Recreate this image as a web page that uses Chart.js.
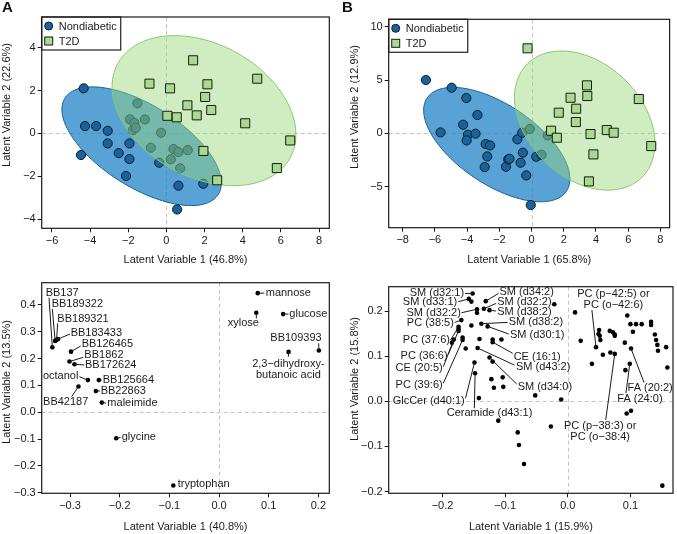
<!DOCTYPE html>
<html>
<head>
<meta charset="utf-8">
<script src="https://cdn.jsdelivr.net/npm/chart.js@4.4.1/dist/chart.umd.min.js"></script>
<style>
body { margin: 0; background: #fff; }
#wrap { position: relative; width: 677px; height: 534px; overflow: hidden; }
canvas { position: absolute; }
.tag { position: absolute; font: bold 15px "Liberation Sans", Arial, sans-serif; line-height: 15px; color: #111; }
</style>
</head>
<body>
<div id="wrap">
  <canvas id="cA" width="338" height="270" style="left:0;top:0"></canvas>
  <canvas id="cB" width="339" height="270" style="left:338px;top:0"></canvas>
  <canvas id="cC" width="338" height="272" style="left:0;top:262px"></canvas>
  <canvas id="cD" width="339" height="272" style="left:338px;top:262px"></canvas>
  <div class="tag" style="left:2px;top:-1px">A</div>
  <div class="tag" style="left:342px;top:-1px">B</div>
</div>
<script>
// ---- panel A: scores, GC-MS ----
const aNondiabeticX = [-4.34,-4.27,-3.69,-3.08,-4.48,-3.08,-2.50,-1.94,-1.94,-2.12,-1.76,-1.52,-1.91,-1.68,-1.61,-1.13,-0.28,-0.82,-0.38,0.23,0.37,0.63,1.12,0.72,0.63,1.93,0.56];
const aNondiabeticY = [2.10,0.34,0.34,0.12,-1.01,-0.47,-0.92,-0.47,-1.20,-1.99,0.15,1.40,0.65,0.49,0.26,0.65,0.03,-0.67,-1.37,-1.21,-0.73,-0.87,-0.78,-1.63,-2.44,-2.35,-3.55];
const aT2dX = [-0.89,0.19,1.40,2.15,2.03,1.10,2.35,1.59,0.05,0.54,4.76,4.13,6.49,5.79,1.94,2.66];
const aT2dY = [2.32,2.10,3.41,2.29,1.70,1.31,1.09,0.84,0.82,0.75,2.55,0.47,-0.33,-1.62,-0.82,-2.19];
// ellipse: centre x, centre y, half width, half height, correlation
const aNondiabeticEllipse = [-1.3, -0.6, 4.18, 2.77, -0.62];
const aT2dEllipse = [1.97, 1.06, 4.82, 3.5, -0.32];

// ---- panel B: scores, lipids ----
const bNondiabeticX = [-6.56,-4.96,-4.05,-5.65,-4.25,-3.36,-3.95,-4.03,-3.48,-2.85,-2.57,-2.75,-2.91,-1.59,-1.45,-1.37,-0.88,-0.54,-0.68,-0.33,-0.58,-0.11,0.29,-0.05,1.0,0.62];
const bNondiabeticY = [5.0,4.28,3.31,0.09,0.81,1.72,-0.13,-0.66,-0.03,-1.0,-1.13,-2.16,-3.16,-3.13,-2.44,-2.38,-0.56,-1.81,-2.75,-3.94,0.06,0.41,-2.19,-6.72,-0.19,-2.0];
const bT2dX = [-0.25,3.44,2.42,3.46,6.66,2.77,1.69,2.75,1.21,1.57,4.67,5.10,3.66,7.43,3.84,3.56];
const bT2dY = [7.97,4.5,3.34,3.5,3.22,2.31,1.94,1.06,0.25,-0.41,0.31,0.06,-0.06,-1.19,-1.97,-4.5];
const bNondiabeticEllipse = [-2.16, -1.05, 4.54, 5.36, -0.60];
const bT2dEllipse = [3.30, 1.2, 4.36, 6.52, -0.33];

// ---- panel C: loadings, GC-MS ----
const cNames = ['BB137','BB189322','BB189321','BB183433','BB126465','BB1862','BB172624','octanol','BB125664','BB42187','BB22863','maleimide','glycine','tryptophan','mannose','xylose','glucose','BB109393','2,3\u2212dihydroxy-|butanoic acid'];
const cX = [-0.3356,-0.330,-0.327,-0.324,-0.298,-0.301,-0.291,-0.264,-0.242,-0.283,-0.248,-0.236,-0.207,-0.092,0.078,0.075,0.129,0.201,0.140];
const cY = [0.242,0.266,0.270,0.273,0.226,0.189,0.179,0.120,0.120,0.096,0.079,0.036,-0.097,-0.273,0.444,0.371,0.366,0.230,0.225];

// ---- panel D: loadings, lipids (first 22 are labelled) ----
const dNames = ['SM (d32:1)','SM (d33:1)','SM (d34:2)','SM (d32:2)','SM (d32:2)','SM (d38:2)','PC (38:5)','SM (d38:2)','SM (d30:1)','PC (37:6)','PC (36:6)','CE (20:5)','PC (39:6)','CE (16:1)','SM (d43:2)','SM (d34:0)','GlcCer (d40:1)','Ceramide (d43:1)','PC (p\u221242:5) or|PC (o\u221242:6)','PC (p\u221238:3) or|PC (o\u221238:4)','FA (20:2)','FA (24:0)'];
const dX = [-0.152,-0.158,-0.131,-0.145,-0.134,-0.125,-0.170,-0.138,-0.128,-0.1745,-0.1745,-0.182,-0.168,-0.120,-0.144,-0.125,-0.149,-0.148,0.045,0.075,0.101,0.099,
  -0.154,-0.0216,-0.145,0.0116,-0.154,-0.1745,-0.185,-0.168,-0.141,-0.120,-0.106,-0.163,-0.120,-0.122,-0.104,-0.118,-0.103,-0.142,-0.052,-0.0105,-0.111,-0.027,-0.080,-0.078,-0.070,
  0.0206,0.0385,0.050,0.049,0.051,0.052,0.067,0.072,0.075,0.075,0.056,0.068,0.091,0.095,0.100,0.109,0.118,0.104,0.133,0.133,0.139,0.141,0.143,0.144,0.157,0.159,0.092,0.094,0.101,0.151];
const dY = [0.239,0.227,0.222,0.204,0.205,0.202,0.180,0.172,0.166,0.165,0.156,0.137,0.136,0.131,0.118,0.097,0.086,0.062,0.120,0.105,0.117,0.083,
  0.221,0.215,0.196,0.197,0.168,0.160,0.130,0.141,0.138,0.137,0.137,0.117,0.088,0.049,0.053,0.030,0.032,0.007,0.013,0.004,-0.043,-0.056,-0.069,-0.097,-0.139,
  0.134,0.083,0.158,0.149,0.145,0.136,0.156,0.153,0.148,0.145,0.103,0.108,0.130,0.190,0.171,0.171,0.171,0.154,0.176,0.169,0.148,0.136,0.125,0.112,0.120,0.075,0.069,-0.027,-0.021,-0.187];

// ---- ticks and titles ----
const aXTicks = [-6,-4,-2,0,2,4,6,8], aXTickLabels = ['\u22126','\u22124','\u22122','0','2','4','6','8'];
const aYTicks = [-4,-2,0,2,4], aYTickLabels = ['\u22124','\u22122','0','2','4'];
const bXTicks = [-8,-6,-4,-2,0,2,4,6,8], bXTickLabels = ['\u22128','\u22126','\u22124','\u22122','0','2','4','6','8'];
const bYTicks = [-5,0,5,10], bYTickLabels = ['\u22125','0','5','10'];
const cXTicks = [-0.3,-0.2,-0.1,0,0.1,0.2], cXTickLabels = ['\u22120.3','\u22120.2','\u22120.1','0.0','0.1','0.2'];
const cYTicks = [-0.3,-0.2,-0.1,0,0.1,0.2,0.3,0.4], cYTickLabels = ['\u22120.3','\u22120.2','\u22120.1','0.0','0.1','0.2','0.3','0.4'];
const dXTicks = [-0.2,-0.1,0,0.1], dXTickLabels = ['\u22120.2','\u22120.1','0.0','0.1'];
const dYTicks = [-0.2,-0.1,0,0.1,0.2], dYTickLabels = ['\u22120.2','\u22120.1','0.0','0.1','0.2'];
const seriesNames = ['Nondiabetic', 'T2D'];

// label layout: [point index, align, text x, text y, line start x, line start y]
const cLabelLayout = [
  [0,'left',-0.349,0.443,-0.3423,0.427],[1,'left',-0.3369,0.4021,-0.3356,0.3848],
  [2,'left',-0.3255,0.3488,-0.3248,0.3314],[3,'left',-0.2987,0.2966,-0.300,0.2917],
  [4,'left',-0.2765,0.2532,-0.2785,0.247],[5,'left',-0.2711,0.2135,-0.2732,0.2048],
  [6,'left',-0.2698,0.1762,-0.2711,0.1762],[7,'right',-0.2832,0.1353,-0.2812,0.1328],
  [8,'left',-0.2342,0.1204,-0.2362,0.1204],[9,'center',-0.3087,0.0397,-0.2966,0.0583],
  [10,'left',-0.2383,0.0794,-0.2396,0.0794],[11,'left',-0.2248,0.036,-0.2275,0.0345],
  [12,'left',-0.196,-0.0906,-0.198,-0.094],[13,'left',-0.0832,-0.2681,null,null],
  [14,'left',0.094,0.4443,0.0913,0.4443],[15,'center',0.049,0.3314,0.0752,0.350],
  [16,'left',0.1416,0.3661,0.1396,0.3661],[17,'center',0.155,0.2755,0.2007,0.2569],
  [18,'center',0.1396,0.180,0.1396,0.2073]
];
const dLabelLayout = [
  [0,'right',-0.1656,0.2391,-0.164,0.239],[1,'right',-0.1766,0.2192,-0.175,0.2207],
  [2,'left',-0.1091,0.2413,-0.1107,0.2391],[3,'right',-0.1708,0.1948,-0.1698,0.1963],
  [4,'left',-0.1128,0.2192,-0.1144,0.2170],[5,'left',-0.1128,0.1985,-0.1144,0.200],
  [6,'right',-0.1819,0.1727,-0.1803,0.1749],[7,'left',-0.0944,0.1749,-0.096,0.1749],
  [8,'left',-0.0923,0.1469,-0.0944,0.1491],[9,'right',-0.1882,0.1358,-0.1872,0.1358],
  [10,'right',-0.1919,0.1011,-0.1909,0.1041],[11,'right',-0.1998,0.0731,-0.1988,0.0768],
  [12,'right',-0.1998,0.0362,-0.1988,0.0399],[13,'left',-0.0865,0.0989,-0.088,0.1063],
  [14,'left',-0.0828,0.0753,-0.0854,0.0804],[15,'left',-0.0801,0.0325,-0.0817,0.0384],
  [16,'right',-0.1645,0.0007,-0.1634,0.0066],[17,'center',-0.125,-0.0266,-0.1492,-0.0155],
  [18,'center',0.0728,0.2369,0.0385,0.2022],[19,'center',0.0517,-0.0539,0.0606,-0.0413],
  [20,'left',0.0954,0.0303,0.1218,0.0413],[21,'left',0.0791,0.0044,0.0928,0.0177]
];

const FONT = '"Liberation Sans", Arial, Helvetica, sans-serif';
const INK = '#1a1a1a';
const BLUE = '#15649f', GREEN = '#a9da8d';
const BLUE_FILL = 'rgba(30,130,200,0.74)', GREEN_FILL = 'rgba(150,215,120,0.45)';

function pts(xs, ys) { return xs.map((v, i) => ({x: v, y: ys[i]})); }

function axis(range, vals, labels, title, size, titlePad) {
  return {
    type: 'linear', min: range[0], max: range[1],
    afterBuildTicks: s => { s.ticks = vals.map(v => ({value: v})); },
    afterFit: s => { if (s.isHorizontal()) s.height = size; else s.width = size; },
    ticks: {
      callback: v => labels[vals.indexOf(v)],
      color: INK, font: {size: 11, family: FONT}, padding: 2,
      autoSkip: false, maxRotation: 0
    },
    grid: {drawOnChartArea: false, drawTicks: true, tickLength: 4, tickColor: INK, tickWidth: 1},
    border: {display: false},
    title: {display: titlePad !== null, text: title, color: INK, font: {size: 11, family: FONT},
            padding: {top: titlePad || 0, bottom: titlePad || 0}}
  };
}

function drawEllipse(chart, e, fill, stroke) {
  const {ctx, scales: {x, y}} = chart;
  const s = Math.sqrt(1 - e[4] * e[4]);
  ctx.save();
  ctx.beginPath();
  for (let k = 0; k <= 120; k++) {
    const t = k / 120 * Math.PI * 2;
    const px = x.getPixelForValue(e[0] + e[2] * Math.cos(t));
    const py = y.getPixelForValue(e[1] + e[3] * (e[4] * Math.cos(t) + s * Math.sin(t)));
    if (k === 0) ctx.moveTo(px, py); else ctx.lineTo(px, py);
  }
  ctx.closePath();
  ctx.fillStyle = fill; ctx.fill();
  ctx.strokeStyle = stroke; ctx.lineWidth = 1; ctx.stroke();
  ctx.restore();
}

function drawLabels(chart, xs, ys, names, layout) {
  const {ctx, scales: {x, y}} = chart;
  ctx.save();
  ctx.font = '11px ' + FONT;
  ctx.fillStyle = INK; ctx.strokeStyle = INK; ctx.lineWidth = 1;
  layout.forEach(l => {
    const i = l[0];
    if (l[4] !== null) {
      ctx.beginPath();
      ctx.moveTo(x.getPixelForValue(l[4]), y.getPixelForValue(l[5]));
      ctx.lineTo(x.getPixelForValue(xs[i]), y.getPixelForValue(ys[i]));
      ctx.stroke();
    }
    ctx.textAlign = l[1]; ctx.textBaseline = 'middle';
    names[i].split('|').forEach((t, k) => {
      ctx.fillText(t, x.getPixelForValue(l[2]), y.getPixelForValue(l[3]) + k * 11);
    });
  });
  ctx.restore();
}

function drawLegend(chart) {
  const {ctx, chartArea: ca} = chart;
  const x0 = ca.left, y0 = ca.top;
  ctx.save();
  ctx.fillStyle = '#fff'; ctx.fillRect(x0, y0, 79, 33);
  ctx.strokeStyle = '#333'; ctx.lineWidth = 1.3; ctx.strokeRect(x0, y0, 79, 33);
  ctx.lineWidth = 1; ctx.strokeStyle = INK;
  ctx.beginPath(); ctx.arc(x0 + 7, y0 + 9, 4, 0, Math.PI * 2);
  ctx.fillStyle = BLUE; ctx.fill(); ctx.stroke();
  ctx.fillStyle = GREEN; ctx.fillRect(x0 + 3, y0 + 20, 8, 8); ctx.strokeRect(x0 + 3, y0 + 20, 8, 8);
  ctx.fillStyle = INK; ctx.font = '11px ' + FONT; ctx.textAlign = 'left'; ctx.textBaseline = 'middle';
  ctx.fillText(seriesNames[0], x0 + 17, y0 + 9.5);
  ctx.fillText(seriesNames[1], x0 + 17, y0 + 24.5);
  ctx.restore();
}

const framePlugin = {
  id: 'frame',
  beforeDatasetsDraw(chart) {
    const {ctx, chartArea: ca, scales: {x, y}} = chart;
    ctx.save();
    ctx.strokeStyle = '#c4c4c4'; ctx.lineWidth = 1; ctx.setLineDash([4, 3]);
    const zx = Math.round(x.getPixelForValue(0)) + 0.5, zy = Math.round(y.getPixelForValue(0)) + 0.5;
    ctx.beginPath();
    ctx.moveTo(zx, ca.top); ctx.lineTo(zx, ca.bottom);
    ctx.moveTo(ca.left, zy); ctx.lineTo(ca.right, zy);
    ctx.stroke();
    ctx.restore();
  },
  beforeDatasetDraw(chart, args) {
    const el = chart.options.plugins.frame.ellipses;
    if (!el) return;
    const ca = chart.chartArea;
    chart.ctx.save();
    chart.ctx.beginPath(); chart.ctx.rect(ca.left, ca.top, ca.right - ca.left, ca.bottom - ca.top); chart.ctx.clip();
    if (args.index === 0) drawEllipse(chart, el[0], BLUE_FILL, '#1a5f95');
    else drawEllipse(chart, el[1], GREEN_FILL, '#86c96a');
    chart.ctx.restore();
  },
  afterDatasetsDraw(chart) {
    const o = chart.options.plugins.frame;
    const {ctx, chartArea: ca} = chart;
    if (o.labels) drawLabels(chart, o.labels.xs, o.labels.ys, o.labels.names, o.labels.layout);
    if (o.ellipses) drawLegend(chart);
    ctx.save();
    ctx.strokeStyle = INK; ctx.lineWidth = 1.2;
    ctx.strokeRect(ca.left, ca.top, ca.right - ca.left, ca.bottom - ca.top);
    // y axis title sits a little above the middle of the plot, as in the figure
    ctx.translate(o.yTitle[1], o.yTitle[2]);
    ctx.rotate(-Math.PI / 2);
    ctx.fillStyle = INK; ctx.font = '11px ' + FONT;
    ctx.textAlign = 'center'; ctx.textBaseline = 'middle';
    ctx.fillText(o.yTitle[0], 0, 0);
    ctx.restore();
  }
};

function panel(id, area, xAx, yAx, datasets, frame) {
  const cv = document.getElementById(id);
  return new Chart(cv, {
    type: 'scatter',
    data: {datasets},
    options: {
      responsive: false, animation: false, devicePixelRatio: 1,
      layout: {padding: {top: area[1], right: cv.width - area[2], left: 0, bottom: 0}},
      plugins: {legend: {display: false}, tooltip: {enabled: false}, frame},
      scales: {x: xAx(cv.height - area[3]), y: yAx(area[0])}
    },
    plugins: [framePlugin]
  });
}

function groupSets(ndX, ndY, tX, tY) {
  return [
    {label: seriesNames[0], data: pts(ndX, ndY), order: 2, pointStyle: 'circle', pointRadius: 4.6,
     backgroundColor: BLUE, borderColor: INK, borderWidth: 1},
    {label: seriesNames[1], data: pts(tX, tY), order: 1, pointStyle: 'rect', pointRadius: 6.4,
     backgroundColor: GREEN, borderColor: INK, borderWidth: 1}
  ];
}
function dotSet(xs, ys) {
  return [{data: pts(xs, ys), pointRadius: 2.3, backgroundColor: '#000', borderWidth: 0}];
}

panel('cA', [41.7, 17, 329.3, 228.3],
  h => axis([-6.54, 8.54], aXTicks, aXTickLabels, 'Latent Variable 1 (46.8%)', h, 3.4),
  w => axis([-4.43, 5.43], aYTicks, aYTickLabels, '', w, null),
  groupSets(aNondiabeticX, aNondiabeticY, aT2dX, aT2dY),
  {ellipses: [aNondiabeticEllipse, aT2dEllipse], yTitle: ['Latent Variable 2 (22.6%)', 6.5, 105]});

panel('cB', [50.7, 19.3, 337.3, 227.7],
  h => axis([-8.87, 8.57], bXTicks, bXTickLabels, 'Latent Variable 1 (65.8%)', h, 3.4),
  w => axis([-8.84, 10.69], bYTicks, bYTickLabels, '', w, null),
  groupSets(bNondiabeticX, bNondiabeticY, bT2dX, bT2dY),
  {ellipses: [bNondiabeticEllipse, bT2dEllipse], yTitle: ['Latent Variable 2 (12.9%)', 17.3, 107]});

panel('cC', [41.7, 20.7, 329.3, 231.3],
  h => axis([-0.357, 0.222], cXTicks, cXTickLabels, 'Latent Variable 1 (40.8%)', h, 0.7),
  w => axis([-0.302, 0.483], cYTicks, cYTickLabels, '', w, null),
  dotSet(cX, cY),
  {labels: {xs: cX, ys: cY, names: cNames, layout: cLabelLayout}, yTitle: ['Latent Variable 2 (13.5%)', 6.5, 120]});

panel('cD', [50.7, 24.7, 337.3, 231.3],
  h => axis([-0.286, 0.168], dXTicks, dXTickLabels, 'Latent Variable 1 (15.9%)', h, 0.7),
  w => axis([-0.204, 0.254], dYTicks, dYTickLabels, '', w, null),
  dotSet(dX, dY),
  {labels: {xs: dX, ys: dY, names: dNames, layout: dLabelLayout}, yTitle: ['Latent Variable 2 (15.8%)', 17.3, 117]});
</script>
</body>
</html>
